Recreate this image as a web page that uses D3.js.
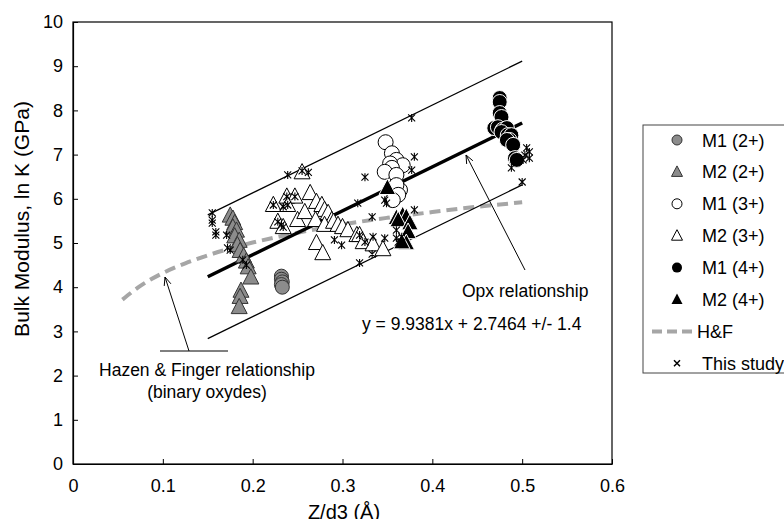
<!DOCTYPE html>
<html><head><meta charset="utf-8">
<script src="https://cdn.jsdelivr.net/npm/d3@7"></script>
<style>body{margin:0;background:#fff}svg{display:block;font-family:"Liberation Sans",Arial,sans-serif}</style>
</head><body><svg id="c" width="784" height="519"></svg>
<script>
// ---- data ----
const xTicks = [0, 0.1, 0.2, 0.3, 0.4, 0.5, 0.6];
const yTicks = [0,1,2,3,4,5,6,7,8,9,10];
const m1_2 = [[0.232,4.25],[0.232,4.18],[0.233,4.12],[0.232,4.06],[0.233,4.0]];
const m2_2 = [[0.175,5.62],[0.178,5.55],[0.18,5.45],[0.178,5.35],[0.182,5.28],[0.18,5.15],[0.185,5.05],[0.183,4.95],[0.186,4.82],[0.19,4.7],[0.193,4.58],[0.195,4.45],[0.198,4.22],[0.187,3.92],[0.186,3.78],[0.185,3.55]];
const m1_3 = [[0.348,7.28],[0.355,7.03],[0.36,6.88],[0.367,6.76],[0.353,6.8],[0.355,6.7],[0.347,6.61],[0.36,6.54],[0.364,6.2],[0.36,6.31],[0.362,6.09],[0.356,5.97]];
const m2_3 = [[0.255,6.6],[0.223,5.86],[0.238,6.05],[0.247,6.05],[0.239,5.86],[0.228,5.48],[0.234,5.36],[0.25,5.52],[0.264,6.13],[0.271,5.93],[0.277,5.86],[0.28,5.75],[0.284,5.68],[0.258,5.7],[0.27,5.52],[0.288,5.52],[0.28,5.41],[0.29,5.48],[0.295,5.41],[0.3,5.36],[0.306,5.29],[0.316,5.18],[0.319,5.18],[0.323,5.02],[0.334,4.97],[0.345,4.86],[0.271,5.0],[0.278,4.77]];
const m1_4 = [[0.475,8.28],[0.475,8.19],[0.475,7.94],[0.477,7.85],[0.469,7.6],[0.473,7.62],[0.478,7.56],[0.483,7.6],[0.477,7.51],[0.484,7.44],[0.488,7.44],[0.486,7.33],[0.483,7.33],[0.49,7.22],[0.492,6.92],[0.494,6.88]];
const m2_4 = [[0.35,6.25],[0.36,5.57],[0.367,5.63],[0.371,5.59],[0.362,5.52],[0.375,5.45],[0.373,5.25],[0.371,5.0],[0.366,5.02]];
const hfX = [0.055,0.075,0.1,0.125,0.15,0.2,0.25,0.3,0.35,0.4,0.45,0.5];
const hfY = [3.72,4.03,4.32,4.54,4.72,5.01,5.23,5.42,5.57,5.70,5.82,5.92];
const study = [[0.155,5.68],[0.155,5.52],[0.155,5.45],[0.159,5.25],[0.159,5.18],[0.171,5.18],[0.172,4.89],[0.175,4.84],[0.189,4.62],[0.193,4.5],
 [0.239,6.54],[0.255,6.63],[0.262,6.6],[0.223,5.86],[0.238,6.05],[0.247,6.05],[0.239,5.86],[0.228,5.48],[0.234,5.36],[0.234,5.82],[0.232,5.41],
 [0.325,6.49],[0.317,5.9],[0.333,5.59],[0.349,5.9],[0.347,5.97],[0.291,5.07],[0.299,4.95],[0.319,5.18],[0.325,5.02],[0.334,5.14],[0.347,5.11],[0.36,5.11],[0.36,5.29],[0.333,4.75],[0.319,4.55],[0.366,5.14],[0.362,5.02],
 [0.377,7.83],[0.38,6.95],[0.377,6.65],[0.38,5.75],
 [0.505,7.15],[0.508,7.06],[0.503,6.99],[0.508,6.92],[0.501,6.88],[0.488,6.7],[0.5,6.38]];
const fitSlope = 9.9381, fitIntercept = 2.7464, fitBand = 1.4, fitRange = [0.15, 0.5];
const legendItems = ["M1 (2+)","M2 (2+)","M1 (3+)","M2 (3+)","M1 (4+)","M2 (4+)","H&F","This study"];

// ---- layout ----
const FONT = "Liberation Sans, Arial, sans-serif";
const svg = d3.select("#c");
const x = d3.scaleLinear().domain([0,0.6]).range([73,612]);
const y = d3.scaleLinear().domain([0,10]).range([464,22]);

svg.append("rect").attr("x",73).attr("y",22).attr("width",539).attr("height",442)
  .attr("fill","none").attr("stroke","#000").attr("stroke-width",1.2);

const xa = svg.append("g").attr("transform","translate(0,464)")
  .call(d3.axisBottom(x).tickValues(xTicks).tickSizeInner(-5).tickSizeOuter(0).tickPadding(15).tickFormat(d=>d===0?"0":d3.format(".1f")(d)));
const ya = svg.append("g").attr("transform","translate(73,0)")
  .call(d3.axisLeft(y).tickValues(yTicks).tickSizeInner(-5).tickSizeOuter(0).tickPadding(10));
[xa,ya].forEach(g=>{g.select(".domain").attr("stroke","#000").attr("stroke-width",1.2);
  g.selectAll("text").attr("font-size",18).attr("fill","#000").style("font-family",FONT);
  g.selectAll("line").attr("stroke","#000");});

svg.append("text").attr("x",344).attr("y",519).attr("text-anchor","middle").attr("font-size",20).text("Z/d3 (Å)");
svg.append("text").attr("transform","translate(29,219) rotate(-90)").attr("text-anchor","middle").attr("font-size",21).text("Bulk Modulus, ln K (GPa)");

// H&F curve
const hf = hfX.map((v,i)=>[v,hfY[i]]);
svg.append("path").datum(hf).attr("fill","none").attr("stroke","#a6a6a6").attr("stroke-width",4)
  .attr("stroke-dasharray","11,6")
  .attr("d", d3.line().x(d=>x(d[0])).y(d=>y(d[1])).curve(d3.curveMonotoneX));

// fit lines
[[fitBand,1.2],[-fitBand,1.2],[0,3.5]].forEach(([off,w])=>{
  svg.append("line").attr("x1",x(fitRange[0])).attr("x2",x(fitRange[1]))
    .attr("y1",y(fitSlope*fitRange[0]+fitIntercept+off)).attr("y2",y(fitSlope*fitRange[1]+fitIntercept+off))
    .attr("stroke","#000").attr("stroke-width",w);
});

// markers
const tri = (s)=>`M0,${-s*0.6}L${s*0.55},${s*0.45}L${-s*0.55},${s*0.45}Z`;
function circles(data, fill, stroke, r){
  svg.append("g").selectAll("circle").data(data).join("circle")
    .attr("cx",d=>x(d[0])).attr("cy",d=>y(d[1])).attr("r",r)
    .attr("fill",fill).attr("stroke",stroke).attr("stroke-width",1);
}
function tris(data, fill, stroke, s){
  svg.append("g").selectAll("path").data(data).join("path")
    .attr("transform",d=>`translate(${x(d[0])},${y(d[1])})`).attr("d",tri(s))
    .attr("fill",fill).attr("stroke",stroke).attr("stroke-width",1);
}
circles(m1_2,"#8c8c8c","#333",7);
tris(m2_2,"#8c8c8c","#333",14.5);
circles(m1_3,"#fff","#000",7.5);
tris(m2_3,"#fff","#000",14.5);
circles(m1_4,"#000","#fff",7.5);
tris(m2_4,"#000","#fff",15);
const star = s=>`M${-s},${-s}L${s},${s}M${-s},${s}L${s},${-s}M0,${-s-0.5}L0,${s+0.5}`;
svg.append("g").selectAll("path").data(study).join("path")
  .attr("transform",d=>`translate(${x(d[0])},${y(d[1])})`).attr("d",star(3.5))
  .attr("fill","none").attr("stroke","#000").attr("stroke-width",1.1);

// annotations
function arrow(x1,y1,x2,y2){
  svg.append("line").attr("x1",x1).attr("y1",y1).attr("x2",x2).attr("y2",y2).attr("stroke","#000").attr("stroke-width",1);
  const a = Math.atan2(y2-y1,x2-x1), L=9, w=0.4;
  svg.append("path").attr("d",`M${x2-L*Math.cos(a-w)},${y2-L*Math.sin(a-w)}L${x2},${y2}L${x2-L*Math.cos(a+w)},${y2-L*Math.sin(a+w)}`)
    .attr("fill","none").attr("stroke","#000").attr("stroke-width",1);
}
arrow(525,270,466,155);
svg.append("text").attr("x",462).attr("y",297).attr("font-size",17.5).text("Opx relationship");
svg.append("text").attr("x",362).attr("y",330).attr("font-size",17.5).text("y = 9.9381x + 2.7464 +/- 1.4");
svg.append("line").attr("x1",160).attr("x2",228).attr("y1",351).attr("y2",351).attr("stroke","#000");
arrow(189,351,165,277);
svg.append("text").attr("x",207).attr("y",376).attr("text-anchor","middle").attr("font-size",17.5).text("Hazen & Finger relationship");
svg.append("text").attr("x",207).attr("y",398).attr("text-anchor","middle").attr("font-size",17.5).text("(binary oxydes)");

// legend
svg.append("rect").attr("x",643).attr("y",125).attr("width",160).attr("height",248)
  .attr("fill","#fff").attr("stroke","#444").attr("stroke-width",1);
legendItems.forEach((t,i)=>{
  const cy = 140 + i*31.9, cx = 677;
  const g = svg.append("g");
  if(i===0) g.append("circle").attr("cx",cx).attr("cy",cy).attr("r",5).attr("fill","#8c8c8c").attr("stroke","#333");
  if(i===1) g.append("path").attr("transform",`translate(${cx},${cy})`).attr("d",tri(10)).attr("fill","#8c8c8c").attr("stroke","#333");
  if(i===2) g.append("circle").attr("cx",cx).attr("cy",cy).attr("r",5).attr("fill","#fff").attr("stroke","#000");
  if(i===3) g.append("path").attr("transform",`translate(${cx},${cy})`).attr("d",tri(10)).attr("fill","#fff").attr("stroke","#000");
  if(i===4) g.append("circle").attr("cx",cx).attr("cy",cy).attr("r",5).attr("fill","#000");
  if(i===5) g.append("path").attr("transform",`translate(${cx},${cy})`).attr("d",tri(10)).attr("fill","#000");
  if(i===6) g.append("line").attr("x1",652).attr("x2",697).attr("y1",cy).attr("y2",cy).attr("stroke","#a6a6a6").attr("stroke-width",4).attr("stroke-dasharray","10,5");
  if(i===7) g.append("path").attr("transform",`translate(${cx},${cy})`).attr("d","M-3,-3L3,3M-3,3L3,-3").attr("stroke","#000").attr("stroke-width",1.5);
  g.append("text").attr("x", i===6?697:702).attr("y",cy+6.5).attr("font-size",18).text(t);
});
</script></body></html>
